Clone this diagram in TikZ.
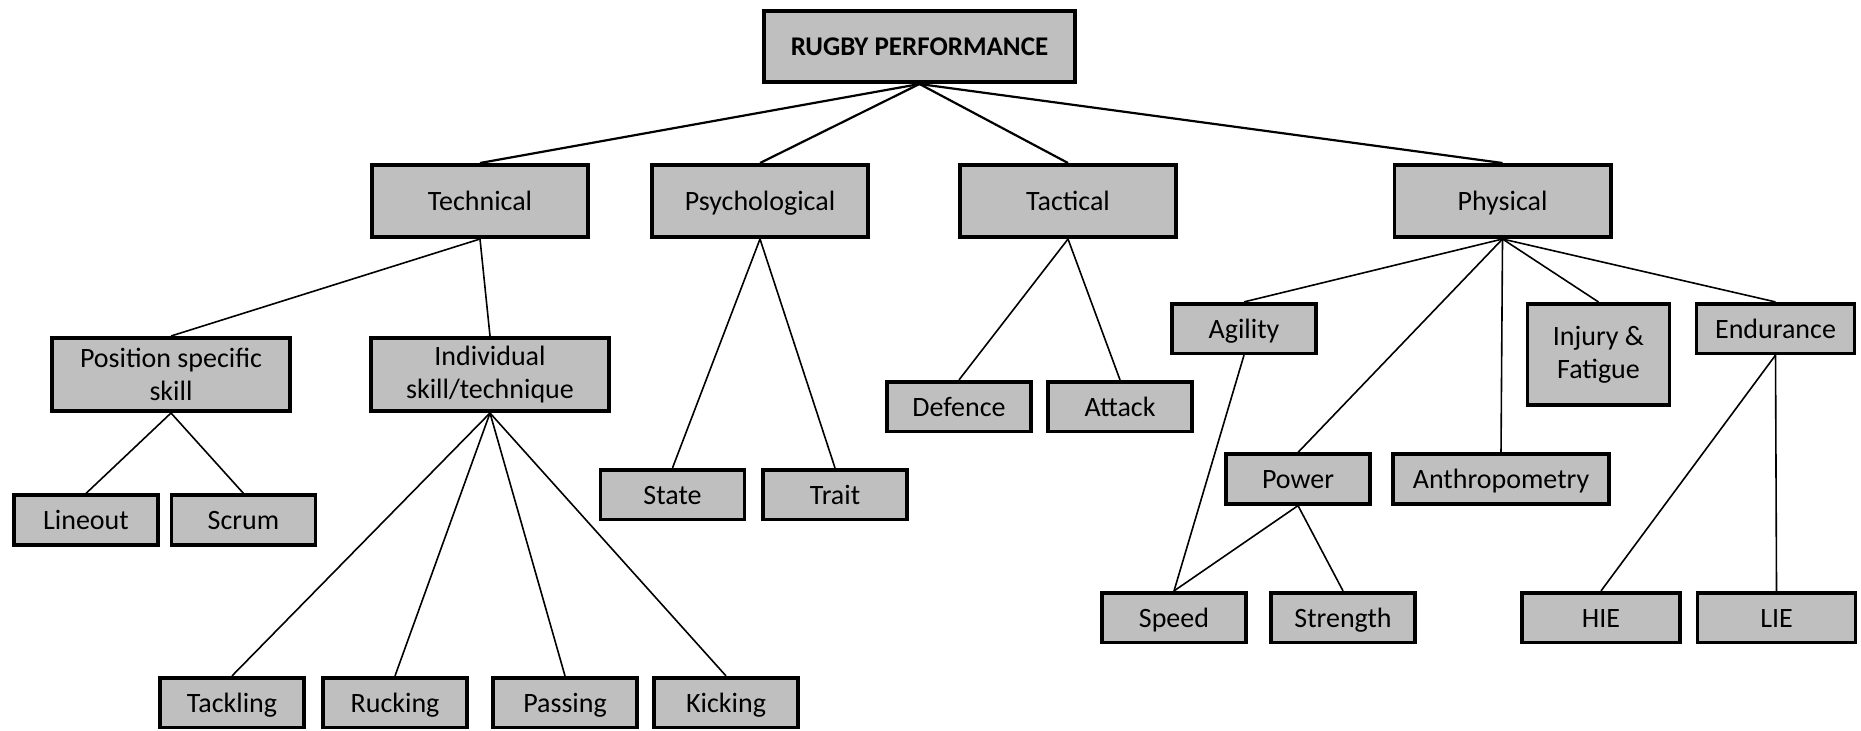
\documentclass[tikz,border=0pt]{standalone}
\usepackage{fontspec}
\setmainfont{Carlito}
\usepackage{xcolor}
\usetikzlibrary{positioning}
\definecolor{boxgray}{RGB}{191,191,191}

\begin{document}
\begin{tikzpicture}[x=0.5pt,y=-0.5pt,on grid,
    box/.style={draw,line width=1.8pt,fill=boxgray,inner sep=0pt,align=center,
      font=\fontsize{14}{16.5}\selectfont},
    leaf/.style={box,minimum width=72pt,minimum height=24.8pt,text height=11.5pt,text depth=2pt},
    wideleaf/.style={leaf,minimum width=79pt},
    cat/.style={box,minimum width=108.2pt,minimum height=36.2pt,text height=11.5pt,text depth=2pt},
    twoline/.style={box,minimum width=119pt,minimum height=36.7pt},
    top/.style={box,minimum width=155.7pt,minimum height=35.7pt,
      font=\fontsize{13.5}{16}\selectfont\bfseries},
    link/.style={line width=0.8pt},
    mainlink/.style={line width=1.1pt}]
  \useasboundingbox (0,0) rectangle (1861,730);

  \node[top] (root) at (919.5,46.5) {RUGBY PERFORMANCE};

  \node[cat] (tech) at (480,201) {Technical};
  \node[cat] (psych) at (760,201) {Psychological};
  \node[cat] (tact) at (1068,201) {Tactical};
  \node[cat] (phys) at (1502.5,201) {Physical};

  % technical
  \node[twoline] (pos) at (171,374.5) {Position specific\\skill};
  \node[twoline] (indiv) at (490,374.5) {Individual\\skill/technique};
  \node[leaf] (lineout) at (86,520) {Lineout};
  \node[leaf] (scrum) [right=78.75pt of lineout] {Scrum};
  \node[leaf] (tackling) at (232,702.5) {Tackling};
  \node[leaf] (rucking) [right=81.5pt of tackling] {Rucking};
  \node[leaf] (passing) [right=85pt of rucking] {Passing};
  \node[leaf] (kicking) [right=80.5pt of passing] {Kicking};

  % psychological and tactical
  \node[leaf] (state) at (672.5,494.5) {State};
  \node[leaf] (trait) [right=81.25pt of state] {Trait};
  \node[leaf] (defence) at (959,406.5) {Defence};
  \node[leaf] (attack) [right=80.5pt of defence] {Attack};

  % physical
  \node[leaf] (agility) at (1244,328.5) {Agility};
  \node[box,minimum width=71pt,minimum height=50.7pt] (injury) at (1598.5,354.5) {Injury \&\\Fatigue};
  \node[wideleaf] (endurance) at (1775.5,328.5) {Endurance};
  \node[leaf] (power) at (1298,479) {Power};
  \node[leaf,minimum width=108.2pt] (anthro) at (1501,479) {Anthropometry};
  \node[leaf] (speed) at (1174,617.5) {Speed};
  \node[leaf] (strength) [right=84.5pt of speed] {Strength};
  \node[wideleaf] (hie) at (1601,617.5) {HIE};
  \node[wideleaf] (lie) [right=87.75pt of hie] {LIE};

  \path[mainlink]
    (root.south) edge (tech.north)
                 edge (psych.north)
                 edge (tact.north)
                 edge (phys.north);

  \path[link]
    (tech.south) edge (pos.north)
                 edge (indiv.north)
    (pos.south) edge (lineout.north)
                edge (scrum.north)
    (indiv.south) edge (tackling.north)
                  edge (rucking.north)
                  edge (passing.north)
                  edge (kicking.north)
    (psych.south) edge (state.north)
                  edge (trait.north)
    (tact.south) edge (defence.north)
                 edge (attack.north)
    (phys.south) edge (agility.north)
                 edge (power.north)
                 edge (anthro.north)
                 edge (injury.north)
                 edge (endurance.north)
    (agility.south) edge (speed.north)
    (power.south) edge (speed.north)
                  edge (strength.north)
    (endurance.south) edge (hie.north)
                      edge (lie.north);
\end{tikzpicture}
\end{document}
